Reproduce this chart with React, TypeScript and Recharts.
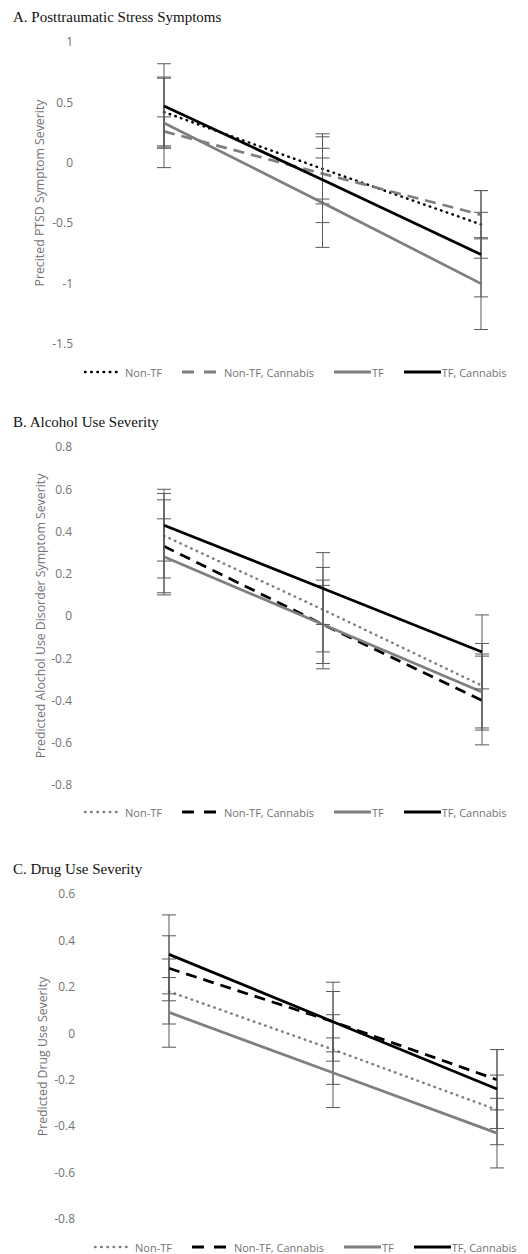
import React from 'react';
import { LineChart, Line, XAxis, YAxis, ErrorBar, Legend, Label } from 'recharts';

// ---------- data ----------
const categories = ['Time 1', 'Time 2', 'Time 3'];

// A. Posttraumatic Stress Symptoms
const ptsdNonTF = [0.42, -0.05, -0.51];
const ptsdNonTFErr = [0.29, 0.29, 0.28];
const ptsdNonTFC = [0.26, -0.09, -0.43];
const ptsdNonTFCErr = [0.12, 0.21, 0.2];
const ptsdTF = [0.33, -0.33, -1.0];
const ptsdTFErr = [0.37, 0.37, 0.38];
const ptsdTFC = [0.47, -0.14, -0.76];
const ptsdTFCErr = [0.35, 0.355, 0.35];
const ptsdTicks = [1, 0.5, 0, -0.5, -1, -1.5];

// B. Alcohol Use Severity
const alcNonTF = [0.38, 0.03, -0.33];
const alcNonTFErr = [0.2, 0.2, 0.2];
const alcNonTFC = [0.33, -0.04, -0.4];
const alcNonTFCErr = [0.22, 0.21, 0.21];
const alcTF = [0.28, -0.04, -0.36];
const alcTFErr = [0.18, 0.185, 0.18];
const alcTFC = [0.43, 0.13, -0.17];
const alcTFCErr = [0.17, 0.17, 0.175];
const alcTicks = [0.8, 0.6, 0.4, 0.2, 0, -0.2, -0.4, -0.6, -0.8];

// C. Drug Use Severity
const drugNonTF = [0.18, -0.07, -0.33];
const drugNonTFErr = [0.14, 0.15, 0.15];
const drugNonTFC = [0.28, 0.05, -0.2];
const drugNonTFCErr = [0.14, 0.13, 0.13];
const drugTF = [0.09, -0.17, -0.43];
const drugTFErr = [0.15, 0.15, 0.15];
const drugTFC = [0.34, 0.05, -0.24];
const drugTFCErr = [0.17, 0.17, 0.17];
const drugTicks = [0.6, 0.4, 0.2, 0, -0.2, -0.4, -0.6, -0.8];

const seriesNames = ['Non-TF', 'Non-TF, Cannabis', 'TF', 'TF, Cannabis'];

// ---------- styles ----------
const BLACK = '#000000';
const GRAY = '#7f7f7f';
const ERR = '#595959';
const TEXT = '#737373';
const SANS = '"Open Sans", "Noto Sans", sans-serif';
const SERIF = '"Liberation Serif", "Times New Roman", serif';

type Style = { color: string; kind: 'dot' | 'dash' | 'solid' };

function buildRows(v: number[][], e: number[][]) {
  return categories.map((c, i) => ({
    cat: c,
    s0: v[0][i], e0: e[0][i],
    s1: v[1][i], e1: e[1][i],
    s2: v[2][i], e2: e[2][i],
    s3: v[3][i], e3: e[3][i],
  }));
}

function dashFor(kind: string) {
  if (kind === 'dot') return '0.5 5.5';
  if (kind === 'dash') return '11 7';
  return undefined;
}

function LegendRow({ styles, startX }: { styles: Style[]; startX: number }) {
  return (
    <div style={{ display: 'flex', alignItems: 'center', paddingLeft: startX, height: 16, fontFamily: SANS, fontSize: 11, color: TEXT, whiteSpace: 'nowrap' }}>
      {styles.map((s, i) => (
        <div key={i} style={{ display: 'flex', alignItems: 'center', marginRight: 20 }}>
          <svg width={37} height={10} style={{ display: 'block' }}>
            {s.kind === 'dot' && (
              <line x1={2} y1={5} x2={36} y2={5} stroke={s.color} strokeWidth={2.5} strokeLinecap="round" strokeDasharray="0.5 5.7" />
            )}
            {s.kind === 'dash' && (
              <line x1={0} y1={5} x2={34} y2={5} stroke={s.color} strokeWidth={3} strokeDasharray="12 10" />
            )}
            {s.kind === 'solid' && <line x1={0} y1={5} x2={37} y2={5} stroke={s.color} strokeWidth={3} />}
          </svg>
          <span style={{ marginLeft: s.kind === 'solid' ? 1 : 5 }}>{seriesNames[i]}</span>
        </div>
      ))}
    </div>
  );
}

type PanelProps = {
  title: string;
  titleY: number;
  chartTop: number;
  chartHeight: number;
  plotTop: number;
  plotBottom: number;
  legendY: number;
  legendX: number;
  padL: number;
  padR: number;
  tickMargin: number;
  labelDx: number;
  yLabel: string;
  ticks: number[];
  rows: any[];
  styles: Style[];
};

function Panel(p: PanelProps) {
  const domain = [p.ticks[p.ticks.length - 1], p.ticks[0]];
  return (
    <>
      <div style={{ position: 'absolute', left: 13, top: p.titleY - 10, fontFamily: SERIF, fontSize: 15, lineHeight: '20px', color: '#111' }}>
        {p.title}
      </div>
      <div style={{ position: 'absolute', left: 0, top: p.chartTop }}>
        <LineChart
          width={528}
          height={p.chartHeight}
          data={p.rows}
          margin={{ top: p.plotTop - p.chartTop, right: 20, bottom: p.chartTop + p.chartHeight - p.plotBottom, left: 0 }}
        >
          <XAxis dataKey="cat" hide padding={{ left: p.padL, right: p.padR }} />
          <YAxis
            domain={domain}
            ticks={p.ticks}
            type="number"
            width={80}
            axisLine={false}
            tickLine={false}
            tickSize={0}
            tickMargin={p.tickMargin}
            tick={{ fill: TEXT, fontSize: 12, fontFamily: SANS }}
            allowDataOverflow
          >
            <Label value={p.yLabel} angle={-90} position="center" dx={p.labelDx} fill={TEXT} fontSize={12.3} fontFamily={SANS} />
          </YAxis>
          <Legend
            verticalAlign="middle"
            align="center"
            layout="horizontal"
            wrapperStyle={{ top: p.legendY - p.chartTop - 8, left: 0, width: 528 }}
            content={() => <LegendRow styles={p.styles} startX={p.legendX} />}
          />
          {p.styles.map((s, i) => (
            <Line
              key={i}
              type="linear"
              dataKey={'s' + i}
              name={seriesNames[i]}
              stroke={s.color}
              strokeWidth={s.kind === 'dot' ? 2.5 : 2.75}
              strokeDasharray={dashFor(s.kind)}
              strokeLinecap={s.kind === 'dot' ? 'round' : 'butt'}
              dot={false}
              activeDot={false}
              isAnimationActive={false}
            >
              <ErrorBar dataKey={'e' + i} width={7} stroke={ERR} strokeWidth={1} direction="y" />
            </Line>
          ))}
        </LineChart>
      </div>
    </>
  );
}

const stylesA: Style[] = [
  { color: BLACK, kind: 'dot' },
  { color: GRAY, kind: 'dash' },
  { color: GRAY, kind: 'solid' },
  { color: BLACK, kind: 'solid' },
];
const stylesBC: Style[] = [
  { color: GRAY, kind: 'dot' },
  { color: BLACK, kind: 'dash' },
  { color: GRAY, kind: 'solid' },
  { color: BLACK, kind: 'solid' },
];

export default function App() {
  const rowsA = buildRows([ptsdNonTF, ptsdNonTFC, ptsdTF, ptsdTFC], [ptsdNonTFErr, ptsdNonTFCErr, ptsdTFErr, ptsdTFCErr]);
  const rowsB = buildRows([alcNonTF, alcNonTFC, alcTF, alcTFC], [alcNonTFErr, alcNonTFCErr, alcTFErr, alcTFCErr]);
  const rowsC = buildRows([drugNonTF, drugNonTFC, drugTF, drugTFC], [drugNonTFErr, drugNonTFCErr, drugTFErr, drugTFCErr]);
  return (
    <div style={{ position: 'absolute', left: 0, top: 0, width: 528, height: 1254, background: '#fff', overflow: 'hidden' }}>
      <Panel
        title="A. Posttraumatic Stress Symptoms"
        titleY={17}
        chartTop={30}
        chartHeight={360}
        plotTop={42}
        plotBottom={344}
        legendY={372}
        legendX={83}
        padL={84}
        padR={27}
        tickMargin={7}
        labelDx={0}
        yLabel="Precited PTSD Symptom Severity"
        ticks={ptsdTicks}
        rows={rowsA}
        styles={stylesA}
      />
      <Panel
        title="B. Alcohol Use Severity"
        titleY={422}
        chartTop={435}
        chartHeight={390}
        plotTop={447}
        plotBottom={785}
        legendY={812}
        legendX={83}
        padL={84}
        padR={26}
        tickMargin={8}
        labelDx={1}
        yLabel="Predicted Alochol Use Disorder Symptom Severity"
        ticks={alcTicks}
        rows={rowsB}
        styles={stylesBC}
      />
      <Panel
        title="C. Drug Use Severity"
        titleY={869}
        chartTop={882}
        chartHeight={372}
        plotTop={894}
        plotBottom={1219}
        legendY={1247}
        legendX={93}
        padL={89}
        padR={11}
        tickMargin={5}
        labelDx={3}
        yLabel="Predicted Drug Use Severity"
        ticks={drugTicks}
        rows={rowsC}
        styles={stylesBC}
      />
    </div>
  );
}
